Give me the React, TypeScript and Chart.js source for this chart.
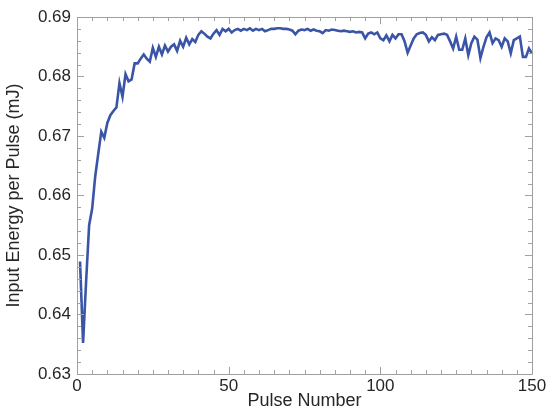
import React, { useEffect, useRef } from "react";
import { Chart, registerables } from "chart.js";

Chart.register(...registerables);

const energy: number[] = [
  0.6489, 0.6352, 0.6455, 0.655, 0.6578, 0.6632, 0.667, 0.6707, 0.6697, 0.6722,
  0.6735, 0.6742, 0.6748, 0.6789, 0.6766, 0.6804, 0.6792, 0.6795, 0.6822, 0.6822,
  0.683, 0.6837, 0.683, 0.6825, 0.6848, 0.6833, 0.685, 0.6837, 0.6852, 0.6842,
  0.685, 0.6854, 0.6843, 0.686, 0.685, 0.6865, 0.6854, 0.6863, 0.6858, 0.687,
  0.6876, 0.6872, 0.6867, 0.6864, 0.6872, 0.6878, 0.687, 0.688, 0.6876, 0.688,
  0.6874, 0.6878, 0.688, 0.6877, 0.688, 0.6878, 0.6881, 0.6877, 0.688, 0.6878,
  0.688, 0.6876, 0.6878, 0.688, 0.688, 0.6881, 0.6881, 0.688, 0.688, 0.6879,
  0.6877, 0.6871, 0.6877, 0.6879, 0.6878, 0.688, 0.6877, 0.6879, 0.6877, 0.6876,
  0.6873, 0.6878, 0.6877, 0.6879, 0.6878, 0.6877, 0.6876, 0.6877, 0.6876, 0.6875,
  0.6876, 0.6874, 0.6875, 0.6874, 0.6864, 0.6872, 0.6874, 0.6871, 0.6874, 0.6864,
  0.6861, 0.6869, 0.6859, 0.687, 0.6864, 0.6871, 0.6871, 0.6859, 0.684, 0.6852,
  0.6864, 0.6871, 0.6873, 0.6874, 0.687, 0.6859, 0.6866, 0.6861, 0.687, 0.6871,
  0.6872, 0.687, 0.6859, 0.6847, 0.6867, 0.6845, 0.6845, 0.6864, 0.6836, 0.6856,
  0.6867, 0.6862, 0.6831, 0.685, 0.6866, 0.6874, 0.6856, 0.6864, 0.6861, 0.685,
  0.6864, 0.6859, 0.6839, 0.6861, 0.6864, 0.6867, 0.6833, 0.6833, 0.6847, 0.6839,
];
const pulseNumbers: number[] = energy.map((_, i) => i + 1);

const xMajorTicks = [0, 50, 100, 150];
const yMajorTicks = [0.63, 0.64, 0.65, 0.66, 0.67, 0.68, 0.69];
const xTitle = "Pulse Number";
const yTitle = "Input Energy per Pulse (mJ)";

const FONT = "'Liberation Sans', Arial, sans-serif";
const FRAME = "#a0a0a0";
const TEXT = "#262626";

const framePlugin = {
  id: "frameTicks",
  afterDatasetsDraw(chart: any) {
    const { ctx, chartArea } = chart;
    const { left, right, top, bottom } = chartArea;
    const xs = chart.scales.x;
    const ys = chart.scales.y;
    ctx.save();
    ctx.strokeStyle = FRAME;
    ctx.lineWidth = 1;
    ctx.beginPath();
    ctx.rect(Math.round(left) + 0.5, Math.round(top) + 0.5, Math.round(right - left), Math.round(bottom - top));
    ctx.stroke();
    ctx.beginPath();
    for (let v = xs.min; v <= xs.max + 1e-9; v += 5) {
      const px = Math.round(xs.getPixelForValue(v)) + 0.5;
      const len = Math.abs(v % 50) < 1e-9 ? 7 : 4;
      ctx.moveTo(px, bottom);
      ctx.lineTo(px, bottom - len);
      ctx.moveTo(px, top);
      ctx.lineTo(px, top + len);
    }
    for (let i = 0; i <= 30; i++) {
      const v = ys.min + i * 0.002;
      const py = Math.round(ys.getPixelForValue(v)) + 0.5;
      const len = i % 5 === 0 ? 7 : 4;
      ctx.moveTo(left, py);
      ctx.lineTo(left + len, py);
      ctx.moveTo(right, py);
      ctx.lineTo(right - len, py);
    }
    ctx.stroke();
    ctx.restore();
  },
};

export default function App() {
  const ref = useRef<HTMLCanvasElement | null>(null);
  useEffect(() => {
    document.body.style.margin = "0";
    if (!ref.current) return;
    const chart = new Chart(ref.current, {
      type: "line",
      data: {
        datasets: [
          {
            data: pulseNumbers.map((p, i) => ({ x: p, y: energy[i] })),
            borderColor: "#3a54a6",
            borderWidth: 2.6,
            pointRadius: 0,
            tension: 0,
            fill: false,
          },
        ],
      },
      options: {
        responsive: false,
        animation: false,
        layout: { padding: { top: 17, right: 16, left: 0, bottom: 0 } },
        plugins: { legend: { display: false }, tooltip: { enabled: false } },
        scales: {
          x: {
            type: "linear",
            min: 0,
            max: 150,
            afterBuildTicks: (s: any) => {
              s.ticks = xMajorTicks.map((v) => ({ value: v }));
            },
            afterFit: (s: any) => {
              s.height = 38;
              s.paddingLeft = 0;
              s.paddingRight = 0;
            },
            grid: { display: false, drawTicks: false },
            border: { display: false },
            ticks: {
              padding: 2,
              maxRotation: 0,
              color: TEXT,
              font: { family: FONT, size: 17 },
              callback: (v: any) => String(v),
            },
            title: {
              display: true,
              text: xTitle,
              color: TEXT,
              font: { family: FONT, size: 18 },
              padding: { top: 0, bottom: 0 },
            },
          },
          y: {
            type: "linear",
            min: 0.63,
            max: 0.69,
            afterBuildTicks: (s: any) => {
              s.ticks = yMajorTicks.map((v) => ({ value: v }));
            },
            afterFit: (s: any) => {
              s.width = 77;
            },
            grid: { display: false, drawTicks: false },
            border: { display: false },
            ticks: {
              padding: 6,
              color: TEXT,
              font: { family: FONT, size: 17 },
              callback: (v: any) => Number(v).toFixed(2),
            },
            title: {
              display: true,
              text: yTitle,
              color: TEXT,
              font: { family: FONT, size: 18 },
              padding: { top: 3, bottom: 0 },
            },
          },
        },
      },
      plugins: [framePlugin],
    });
    return () => chart.destroy();
  }, []);
  return (
    <div style={{ width: 548, height: 412, background: "#fff" }}>
      <canvas ref={ref} width={548} height={412} style={{ display: "block" }} />
    </div>
  );
}
